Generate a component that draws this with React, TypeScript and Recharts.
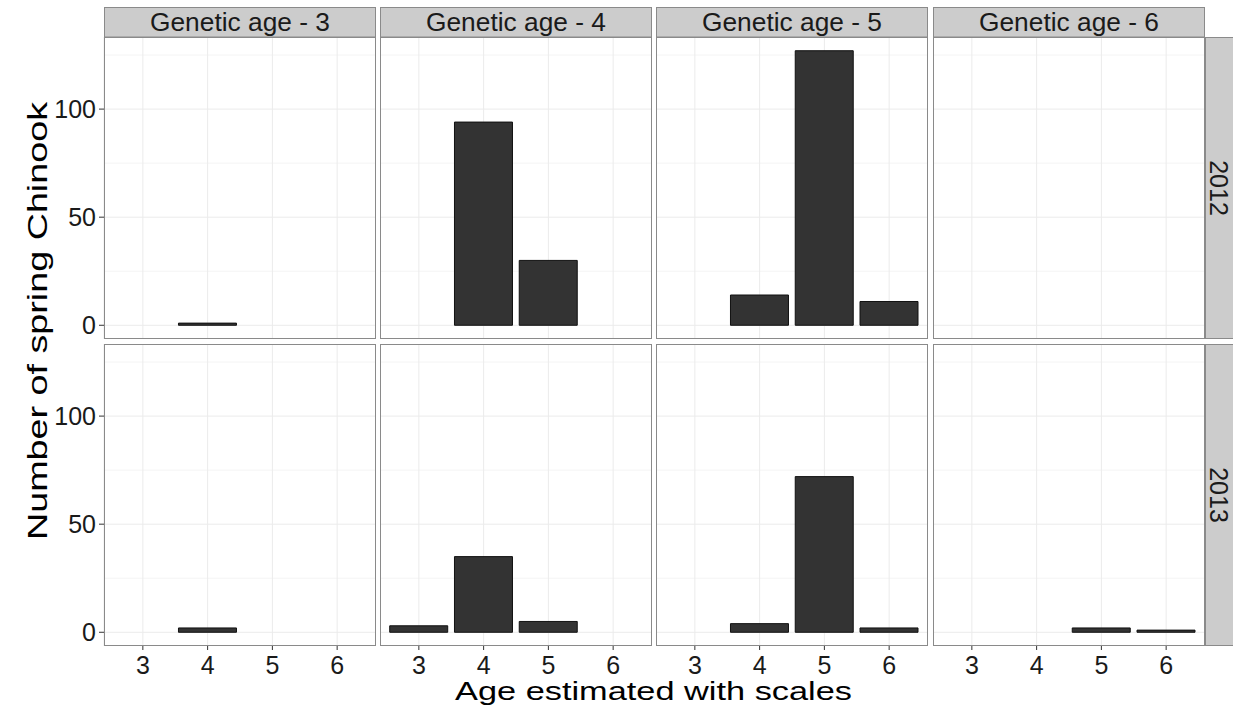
import { Bar, BarChart, CartesianGrid, Rectangle, XAxis, YAxis } from "recharts";

const scaleAges = ["3", "4", "5", "6"];
const geneticAgeLabels = ["Genetic age - 3", "Genetic age - 4", "Genetic age - 5", "Genetic age - 6"];
const years = ["2012", "2013"];

// counts per genetic age panel, indexed by scale age 3..6 (null = no fish)
const counts2012 = [
  [null, 1, null, null],
  [null, 94, 30, null],
  [null, 14, 127, 11],
  [null, null, null, null]
];
const counts2013 = [
  [null, 2, null, null],
  [3, 35, 5, null],
  [null, 4, 72, 2],
  [null, null, 2, 1]
];
const countsByYear = [counts2012, counts2013];

const yTicks = [0, 50, 100];
const yMinorTicks = [25, 75, 125];
const yDomain: [number, number] = [-6.35, 133.35];

const font = "'Liberation Sans', Arial, sans-serif";
const colLefts = [104, 380, 656, 933];
const rowTops = [37, 344];
const panelW = 272;
const panelH = 302;
const yAxisW = 60;
const xAxisH = 40;
const borderColor = "#8a8a8a";

function BarShape(props: any) {
  if (props.payload == null || props.payload.count == null) return <g />;
  return <Rectangle {...props} />;
}

function Panel({ row, col }: { row: number; col: number }) {
  const data = scaleAges.map((age, i) => ({ age, count: countsByYear[row][col][i] }));
  const showY = col === 0;
  const showX = row === 1;
  const width = panelW + (showY ? yAxisW : 0);
  const height = panelH + (showX ? xAxisH : 0);
  const pad = (panelW * 0.1) / 4.2;

  return (
    <div style={{ position: "absolute", left: colLefts[col] - (showY ? yAxisW : 0), top: rowTops[row] }}>
      <BarChart width={width} height={height} data={data} margin={{ top: 0, right: 0, bottom: 0, left: 0 }} barCategoryGap="5%">
        <CartesianGrid vertical={false} horizontalValues={yMinorTicks} stroke="#f4f4f4" strokeWidth={1} />
        <CartesianGrid horizontalValues={yTicks} stroke="#ebebeb" strokeWidth={1} />
        <XAxis
          dataKey="age"
          hide={!showX}
          height={xAxisH}
          padding={{ left: pad, right: pad }}
          axisLine={false}
          tickLine={{ stroke: "#333" }}
          tickSize={4}
          tickMargin={6}
          tick={{ fontSize: 25, fill: "#1a1a1a", fontFamily: font }}
          interval={0}
        />
        <YAxis
          type="number"
          domain={yDomain}
          allowDataOverflow
          ticks={yTicks}
          interval={0}
          hide={!showY}
          width={yAxisW}
          axisLine={false}
          tickLine={{ stroke: "#333" }}
          tickSize={5}
          tickMargin={3}
          tick={{ fontSize: 25, fill: "#1a1a1a", fontFamily: font }}
        />
        <Bar dataKey="count" fill="#333333" stroke="#111111" strokeWidth={1} shape={BarShape} isAnimationActive={false} />
      </BarChart>
    </div>
  );
}

export default function App() {
  return (
    <div style={{ position: "absolute", left: 0, top: 0, width: 1233, height: 713, background: "#fff", fontFamily: font }}>
      {years.map((_, r) => geneticAgeLabels.map((_, c) => <Panel key={`${r}-${c}`} row={r} col={c} />))}
      <svg width={1233} height={713} style={{ position: "absolute", left: 0, top: 0, pointerEvents: "none" }}>
        {geneticAgeLabels.map((label, c) => (
          <g key={label}>
            <rect x={colLefts[c] + 0.5} y={7.5} width={panelW - 1} height={29.5} fill="#cccccc" stroke={borderColor} />
            <text x={colLefts[c] + panelW / 2} y={30.5} textAnchor="middle" fontSize={25} fill="#1a1a1a" fontFamily={font} textLength={180} lengthAdjust="spacingAndGlyphs">
              {label}
            </text>
          </g>
        ))}
        {years.map((year, r) => (
          <g key={year}>
            <rect x={colLefts[3] + panelW + 0.5} y={rowTops[r] + 0.5} width={40} height={panelH - 1} fill="#cccccc" stroke={borderColor} />
            <text
              x={1219}
              y={rowTops[r] + panelH / 2}
              dy="0.35em"
              textAnchor="middle"
              fontSize={25}
              fill="#1a1a1a"
              fontFamily={font}
              transform={`rotate(90 1219 ${rowTops[r] + panelH / 2})`}
            >
              {year}
            </text>
          </g>
        ))}
        {years.map((_, r) =>
          geneticAgeLabels.map((_, c) => (
            <rect key={`b-${r}-${c}`} x={colLefts[c] + 0.5} y={rowTops[r] + 0.5} width={panelW - 1} height={panelH - 1} fill="none" stroke={borderColor} />
          ))
        )}
        <text x={653.5} y={700} textAnchor="middle" fontSize={26} fill="#000" fontFamily={font} textLength={397} lengthAdjust="spacingAndGlyphs">
          Age estimated with scales
        </text>
        <text x={47} y={321} textAnchor="middle" fontSize={28} fill="#000" fontFamily={font} textLength={438} lengthAdjust="spacingAndGlyphs" transform="rotate(-90 47 321)">
          Number of spring Chinook
        </text>
      </svg>
    </div>
  );
}
